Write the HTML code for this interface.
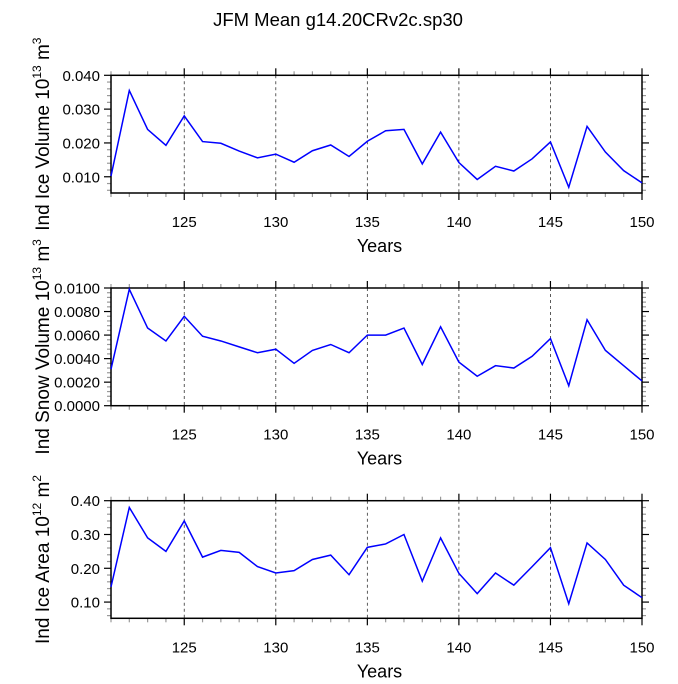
<!DOCTYPE html>
<html><head><meta charset="utf-8"><style>
body{margin:0;background:#fff}
svg{font-family:"Liberation Sans",Arial,sans-serif}
</style></head><body>
<svg id="chart" width="678" height="679" viewBox="0 0 678 679">
<text x="338" y="26" font-size="18.5" text-anchor="middle">JFM Mean g14.20CRv2c.sp30</text>
</svg>
<script>
const years = [121,122,123,124,125,126,127,128,129,130,131,132,133,134,135,136,137,138,139,140,141,142,143,144,145,146,147,148,149,150];
const iceVolume = [0.0102,0.0355,0.0240,0.0193,0.0280,0.0204,0.0199,0.0176,0.0156,0.0167,0.0143,0.0177,0.0194,0.0160,0.0205,0.0236,0.0240,0.0138,0.0232,0.0142,0.0092,0.0131,0.0117,0.0153,0.0203,0.0069,0.0249,0.0173,0.0118,0.0082];
const snowVolume = [0.0031,0.0099,0.0066,0.0055,0.0076,0.0059,0.0055,0.0050,0.0045,0.0048,0.0036,0.0047,0.0052,0.0045,0.0060,0.0060,0.0066,0.0035,0.0067,0.0037,0.0025,0.0034,0.0032,0.0042,0.0057,0.0017,0.0073,0.0047,0.0034,0.0021];
const iceArea = [0.145,0.380,0.290,0.250,0.340,0.233,0.253,0.247,0.205,0.186,0.193,0.226,0.239,0.181,0.262,0.272,0.300,0.162,0.290,0.185,0.125,0.186,0.150,0.205,0.261,0.095,0.275,0.226,0.150,0.113];
const xTicks = [125,130,135,140,145,150];
const iceVolTicks = ["0.010","0.020","0.030","0.040"];
const snowTicks = ["0.0000","0.0020","0.0040","0.0060","0.0080","0.0100"];
const areaTicks = ["0.10","0.20","0.30","0.40"];

const NS="http://www.w3.org/2000/svg";
const svg=document.getElementById('chart');
function mk(tag,attrs,parent){const e=document.createElementNS(NS,tag);for(const k in attrs)e.setAttribute(k,attrs[k]);(parent||svg).appendChild(e);return e;}
const X0=111,X1=642,xmin=121,xmax=150;
const xs=v=>X0+(v-xmin)/(xmax-xmin)*(X1-X0);

function panel(name,top,bot,ymin,ymax,vals,ticks,minorStep,title,sup,unit,unitSup){
  const g=mk('g',{});
  
  
  const ys=v=>bot-(v-ymin)/(ymax-ymin)*(bot-top);
  xTicks.forEach(t=>{if(t<xmax){const l=mk('line',{x1:xs(t),x2:xs(t),y1:top,y2:bot,stroke:'#333','stroke-width':0.8,'stroke-dasharray':'3,3'},g);
    }});
  for(let y=xmin;y<=xmax;y++){const major=xTicks.includes(y);const L=major?7:4;
    mk('line',{x1:xs(y),x2:xs(y),y1:bot,y2:bot+L,stroke:major?'#000':'#999','stroke-width':1.2},g);
    mk('line',{x1:xs(y),x2:xs(y),y1:top,y2:top-L,stroke:major?'#000':'#999','stroke-width':1.2},g);}
  xTicks.forEach(t=>{const tx=mk('text',{x:xs(t),y:bot+34,'font-size':15,'text-anchor':'middle'},g);tx.textContent=t;
    });
  const start=Math.ceil(ymin/minorStep-1e-6);
  for(let i=start;i*minorStep<=ymax+1e-9;i++){const v=i*minorStep;const yy=ys(v);
    const major=ticks.some(t=>Math.abs(parseFloat(t)-v)<minorStep/10);const L=major?7:4;
    mk('line',{x1:X0,x2:X0-L,y1:yy,y2:yy,stroke:major?'#000':'#999','stroke-width':1.2},g);
    mk('line',{x1:X1,x2:X1+L,y1:yy,y2:yy,stroke:major?'#000':'#999','stroke-width':1.2},g);}
  ticks.forEach(t=>{const tx=mk('text',{x:X0-11,y:ys(parseFloat(t))+5.5,'font-size':15,'text-anchor':'end'},g);tx.textContent=t;
    });
  const fr=mk('rect',{x:X0,y:top,width:X1-X0,height:bot-top,fill:'none',stroke:'#000','stroke-width':1.5},g);
  
  const p=mk('polyline',{points:years.map((y,i)=>xs(y)+','+ys(vals[i])).join(' '),fill:'none',stroke:'#0000ff','stroke-width':1.5},g);
  
  const xt=mk('text',{x:(X0+X1)/2+3,y:bot+59,'font-size':18,'text-anchor':'middle'},g);xt.textContent='Years';
  
  const cy=(top+bot)/2;
  const yt=mk('text',{transform:`translate(49,${cy}) rotate(-90)`,'font-size':19,'text-anchor':'middle'},g);
  
  yt.appendChild(document.createTextNode(title+' 10'));
  const s1=mk('tspan',{dy:-8,'font-size':12},yt);s1.textContent=sup;
  const s2=mk('tspan',{dy:8},yt);s2.textContent=' '+unit;
  const s3=mk('tspan',{dy:-8,'font-size':12},yt);s3.textContent=unitSup;
}
panel('ice-volume',75.3,193,0.0052,0.040,iceVolume,iceVolTicks,0.002,'Ind Ice Volume','13','m','3');
panel('snow-volume',288,405.7,0,0.010,snowVolume,snowTicks,0.0004,'Ind Snow Volume','13','m','3');
panel('ice-area',500.7,618.3,0.052,0.40,iceArea,areaTicks,0.02,'Ind Ice Area','12','m','2');
</script>
</body></html>
